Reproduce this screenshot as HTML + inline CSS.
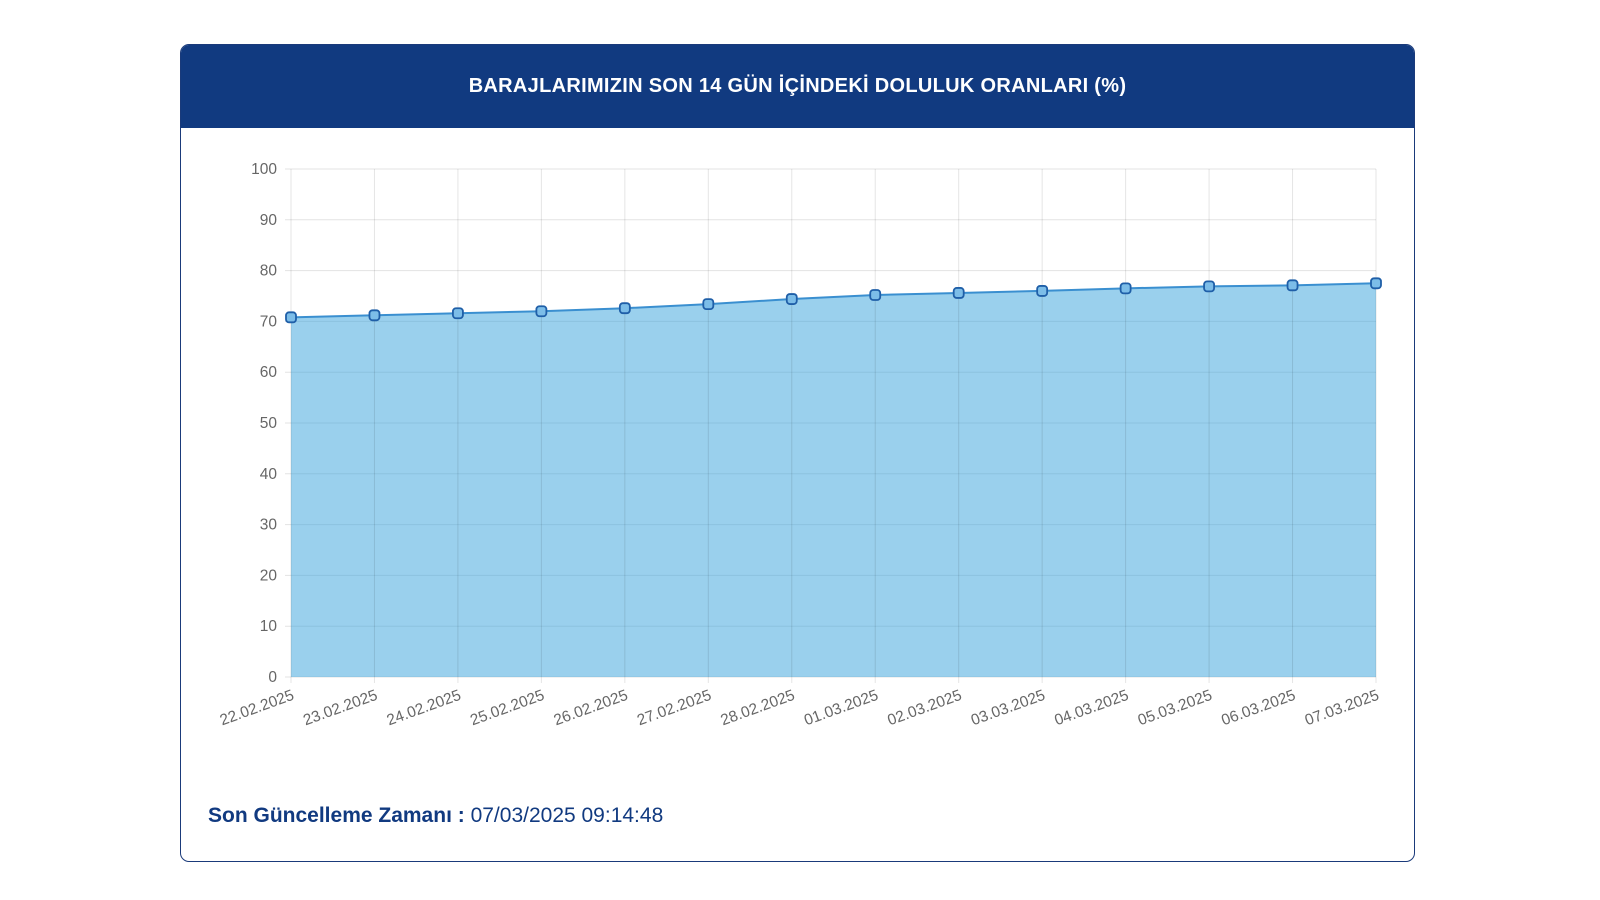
<!DOCTYPE html>
<html><head><meta charset="utf-8"><style>
body{margin:0;width:1600px;height:900px;background:#fff;font-family:"Liberation Sans",sans-serif;position:relative;overflow:hidden}
.card{position:absolute;left:180px;top:44px;width:1235px;height:818px;border:1.5px solid #1a3a7a;border-radius:9px;overflow:hidden;box-sizing:border-box}
.hdr{height:83px;background:#113a80;color:#fff;font-weight:bold;font-size:20px;letter-spacing:0.3px;display:flex;align-items:center;justify-content:center}
.foot{position:absolute;left:208px;top:804px;font-size:21px;color:#113a80}
</style></head><body>
<div class="card">
<div class="hdr">BARAJLARIMIZIN SON 14 GÜN İÇİNDEKİ DOLULUK ORANLARI (%)</div>
</div>
<svg id="chart" width="1600" height="900" style="position:absolute;left:0;top:0"></svg>
<div class="foot"><b>Son Güncelleme Zamanı :</b> 07/03/2025 09:14:48</div>
<script>
const categories=["22.02.2025","23.02.2025","24.02.2025","25.02.2025","26.02.2025","27.02.2025","28.02.2025","01.03.2025","02.03.2025","03.03.2025","04.03.2025","05.03.2025","06.03.2025","07.03.2025"];
const values=[70.8,71.2,71.6,72.0,72.6,73.4,74.4,75.2,75.6,76.0,76.5,76.9,77.1,77.5];
const yTicks=[0,10,20,30,40,50,60,70,80,90,100];
const svg=document.getElementById('chart');const NS='http://www.w3.org/2000/svg';
const x0=291,x1=1376,yb=677,yt=169;
const xs=i=>x0+(x1-x0)*i/(categories.length-1);
const ys=v=>yb-(yb-yt)*v/100;
function mk(t,a){const e=document.createElementNS(NS,t);for(const k in a)e.setAttribute(k,a[k]);svg.appendChild(e);return e;}
yTicks.forEach(v=>{
const l=mk('line',{x1:x0-6,x2:x1,y1:ys(v),y2:ys(v),stroke:'#e3e3e3'});


const t=mk('text',{x:x0-14,y:ys(v)+5,'text-anchor':'end','font-size':15.5,fill:'#666'});t.textContent=v;


});
let d=`M${xs(0)},${yb}`;values.forEach((v,i)=>d+=` L${xs(i)},${ys(v)}`);d+=` L${xs(values.length-1)},${yb}Z`;
const area=mk('path',{d:d,fill:'rgba(54,162,220,0.5)'});


categories.forEach((c,i)=>{
const l=mk('line',{x1:xs(i),x2:xs(i),y1:yt,y2:yb+6,stroke:'rgba(0,0,0,0.1)'});


const t=mk('text',{x:xs(i)+4,y:yb+22,'text-anchor':'end','font-size':15.5,fill:'#666',transform:`rotate(-20 ${xs(i)+4} ${yb+22})`});t.textContent=c;


});
const line=mk('polyline',{points:values.map((v,i)=>xs(i)+','+ys(v)).join(' '),fill:'none',stroke:'#3a8fd0','stroke-width':2});


values.forEach((v,i)=>{
const r=mk('rect',{x:xs(i)-5,y:ys(v)-5,width:10,height:10,rx:3,fill:'#7cbde8',stroke:'#1f5fa8','stroke-width':1.8});


});
</script>
</body></html>
